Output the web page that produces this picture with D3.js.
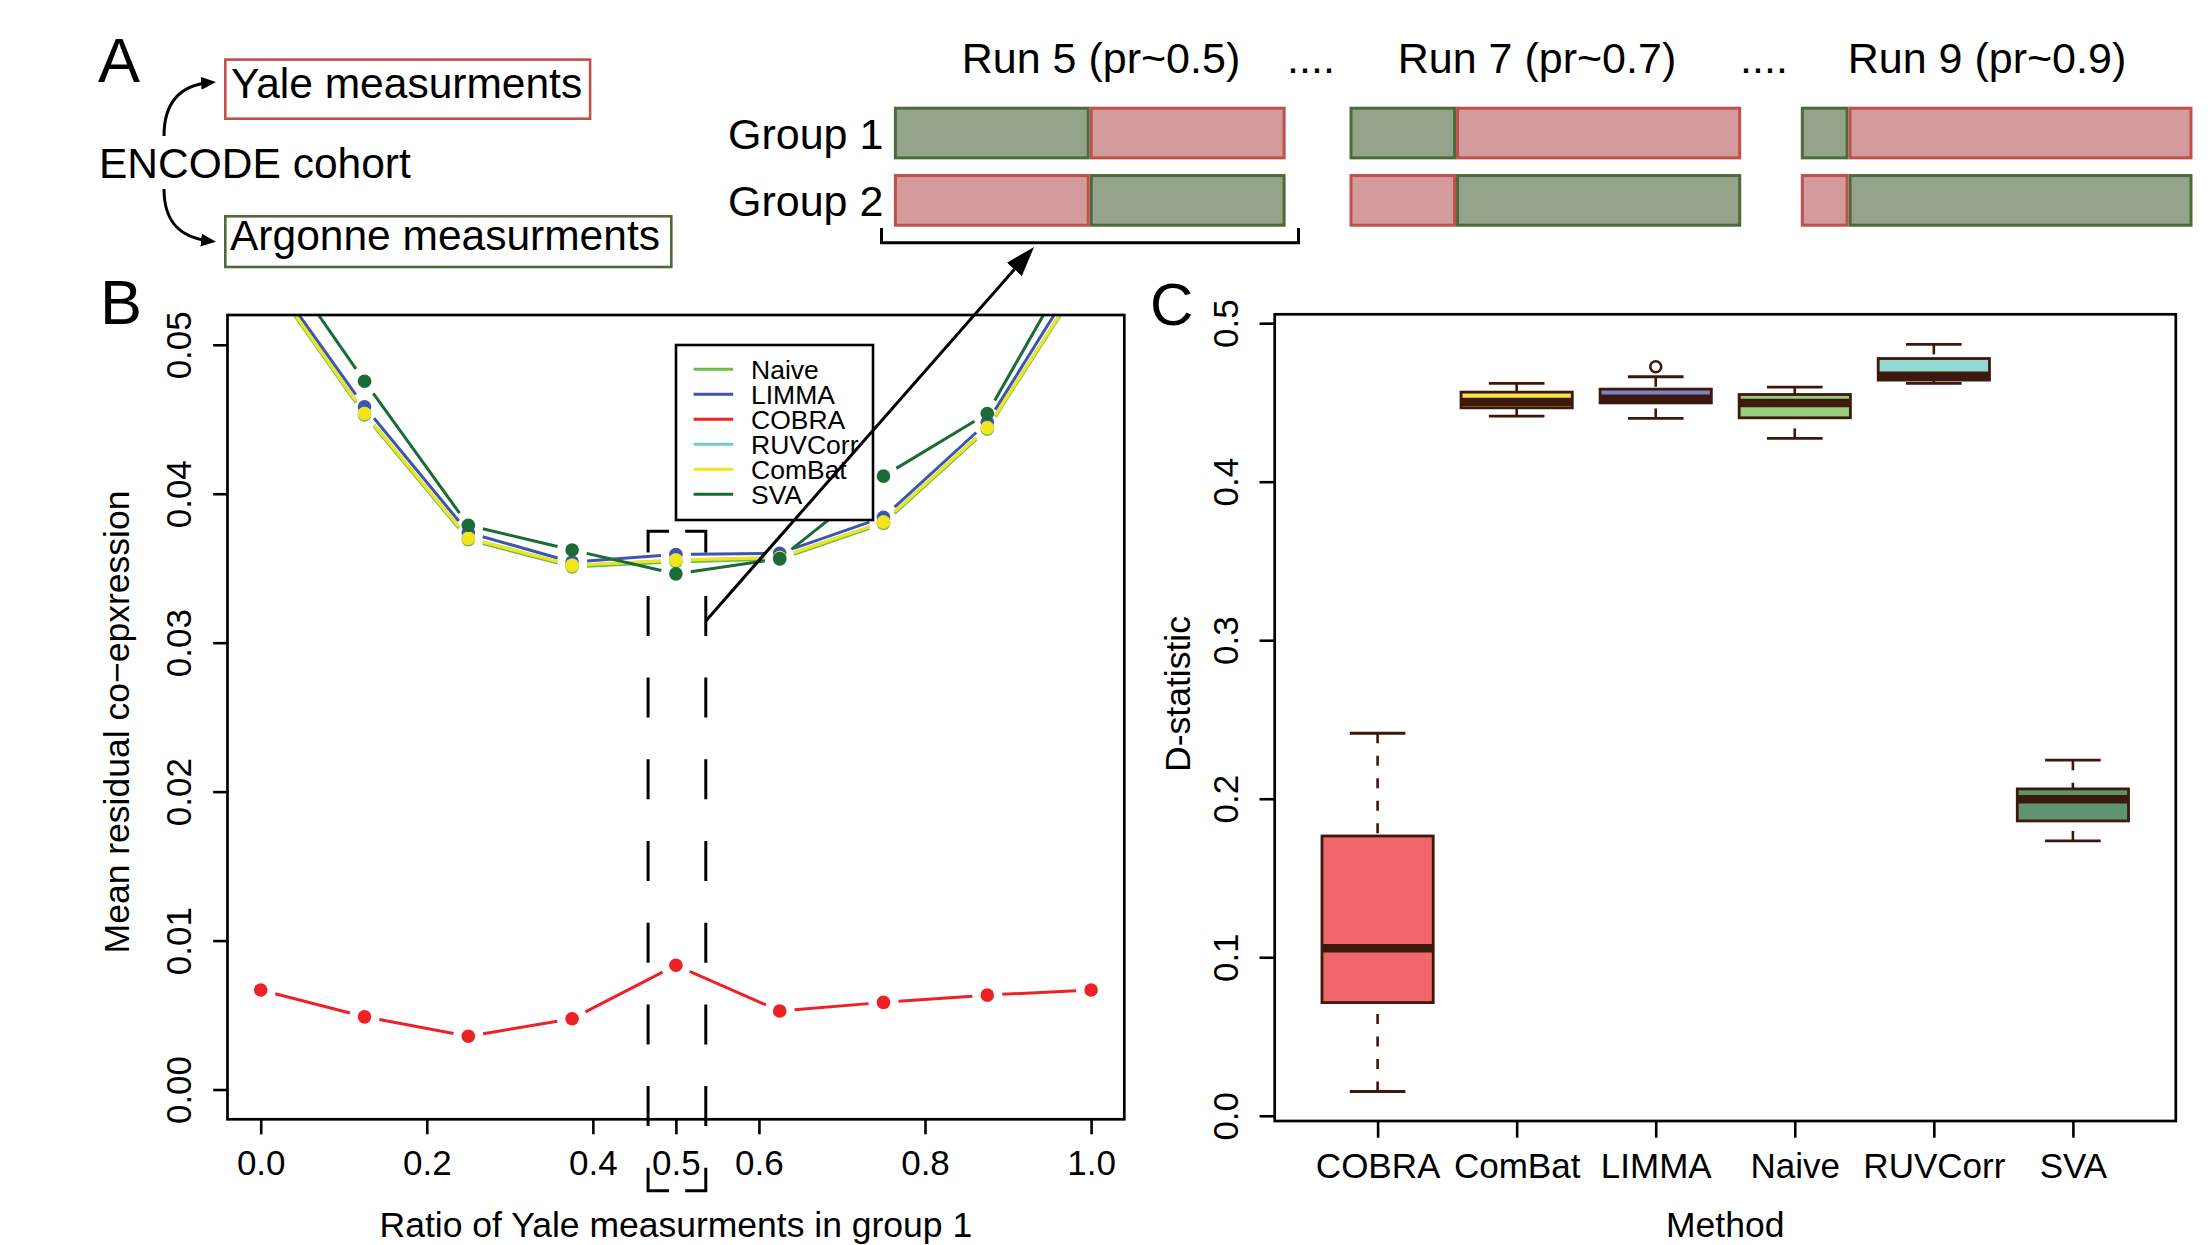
<!DOCTYPE html>
<html><head><meta charset="utf-8">
<script src="https://cdn.jsdelivr.net/npm/d3@7"></script>
<style>
body{margin:0;background:#fff}
svg{display:block}
text{font-family:"Liberation Sans",Arial,Helvetica,sans-serif;fill:#000}
</style>
</head><body>
<svg id="chart" width="2212" height="1245"></svg>
<script>
// ---------------- DATA ----------------
// Panel A
const runLabels = ["Run 5 (pr~0.5)", "Run 7 (pr~0.7)", "Run 9 (pr~0.9)"];
const yaleFracGroup1 = [0.5, 0.728, 0.878];   // share of Yale (red) in group 1
const groupLabels = ["Group 1", "Group 2"];

// Panel B
const ratio   = [0, 0.125, 0.25, 0.375, 0.5, 0.625, 0.75, 0.875, 1.0];
const naive   = [0.0552, 0.04529, 0.03691, 0.03509, 0.03543, 0.03561, 0.03800, 0.04433, 0.0552];
const limma   = [0.0556, 0.04584, 0.03739, 0.03541, 0.03592, 0.03600, 0.03842, 0.04479, 0.0560];
const cobra   = [0.00668, 0.00488, 0.00358, 0.00475, 0.00834, 0.00527, 0.00585, 0.00634, 0.00668];
const ruvcorr = [0.0553, 0.04539, 0.03701, 0.03519, 0.03554, 0.03571, 0.03810, 0.04443, 0.0553];
const combat  = [0.0553, 0.04539, 0.03701, 0.03519, 0.03554, 0.03571, 0.03810, 0.04443, 0.0553];
const sva     = [0.0576, 0.04755, 0.03788, 0.03622, 0.03462, 0.03564, 0.04118, 0.04539, 0.0576];
const seriesNames  = ["Naive", "LIMMA", "COBRA", "RUVCorr", "ComBat", "SVA"];
const seriesValues = [naive, limma, cobra, ruvcorr, combat, sva];
const seriesColors = ["#6BBF43", "#3D55AE", "#EC2227", "#72CCC8", "#F3E41C", "#1B6B36"];
const xTicksB = [0, 0.2, 0.4, 0.5, 0.6, 0.8, 1.0];
const yTicksB = [0, 0.01, 0.02, 0.03, 0.04, 0.05];

// Panel C
const methods   = ["COBRA", "ComBat", "LIMMA", "Naive", "RUVCorr", "SVA"];
const whiskerLo = [0.0153, 0.4414, 0.4399, 0.4273, 0.4620, 0.1734];
const q1        = [0.0714, 0.4466, 0.4497, 0.4403, 0.4641, 0.1860];
const median    = [0.1057, 0.4502, 0.4523, 0.4496, 0.4668, 0.1997];
const q3        = [0.1765, 0.4565, 0.4584, 0.4550, 0.4777, 0.2062];
const whiskerHi = [0.2413, 0.4620, 0.4662, 0.4597, 0.4866, 0.2243];
const outliers  = [[], [], [0.4725], [], [], []];
const boxColors = ["#F1666B", "#F0E44A", "#7B83C4", "#96D07C", "#92D8D3", "#5E9570"];
const yTicksC = [0, 0.1, 0.2, 0.3, 0.4, 0.5];

// ---------------- DRAW ----------------
const svg = d3.select("#chart");
svg.append("rect").attr("width", 2212).attr("height", 1245).attr("fill", "#fff");
const defs = svg.append("defs");
function marker(id, len, hw, refX) {
  defs.append("marker").attr("id", id).attr("markerUnits", "userSpaceOnUse")
    .attr("markerWidth", len).attr("markerHeight", hw * 2)
    .attr("refX", refX).attr("refY", hw).attr("orient", "auto")
    .append("path").attr("d", `M0,0 L${len},${hw} L0,${hw * 2} Z`).attr("fill", "#000");
}
marker("arrSmall", 15, 6.5, 9);
marker("arrBig", 30, 10, 20);

// ======== Panel A ========
svg.append("text").attr("x", 98).attr("y", 81.7).attr("font-size", 63).text("A");
const redStroke = "#C0504D", redFill = "#D39B9C", grnStroke = "#4E6A3A", grnFill = "#94A38A";
svg.append("rect").attr("x", 225.3).attr("y", 59.6).attr("width", 364.8).attr("height", 59.1)
  .attr("fill", "none").attr("stroke", redStroke).attr("stroke-width", 2.6);
svg.append("text").attr("x", 231).attr("y", 98.3).attr("font-size", 42.5).text("Yale measurments");
svg.append("text").attr("x", 99).attr("y", 178.3).attr("font-size", 42.5).text("ENCODE cohort");
svg.append("rect").attr("x", 225.3).attr("y", 216.3).attr("width", 446).attr("height", 50.7)
  .attr("fill", "none").attr("stroke", grnStroke).attr("stroke-width", 2.6);
svg.append("text").attr("x", 230).attr("y", 250).attr("font-size", 42.5).text("Argonne measurments");
svg.append("path").attr("d", "M164,136 C164,100 182,85 210,82.5")
  .attr("fill", "none").attr("stroke", "#000").attr("stroke-width", 3).attr("marker-end", "url(#arrSmall)");
svg.append("path").attr("d", "M164,189 C164,224 182,238 210,241")
  .attr("fill", "none").attr("stroke", "#000").attr("stroke-width", 3).attr("marker-end", "url(#arrSmall)");

// group bars
const yRow = d3.scaleBand().domain(groupLabels).range([106.7, 226.7]).paddingInner(0.218);
groupLabels.forEach(g => {
  svg.append("text").attr("x", 728).attr("y", yRow(g) + yRow.bandwidth() / 2 + 15.5)
    .attr("font-size", 43).text(g);
});
const runStarts = [893.9, 1349.5, 1800.8];
const runTitleX = [1101, 1537, 1987];
const barLen = 391.7;
runLabels.forEach((lab, i) => {
  const xr = d3.scaleLinear().domain([0, 1]).range([runStarts[i], runStarts[i] + barLen]);
  const argFrac = 1 - yaleFracGroup1[i];
  // group 1: Argonne (green) then Yale (red); group 2: Yale then Argonne
  const rows = [
    [{a: 0, b: argFrac, c: "g"}, {a: argFrac, b: 1, c: "r"}],
    [{a: 0, b: argFrac, c: "r"}, {a: argFrac, b: 1, c: "g"}]
  ];
  rows.forEach((segs, r) => {
    const y0 = yRow(groupLabels[r]);
    segs.forEach(s => {
      svg.append("rect")
        .attr("x", xr(s.a) + 1.5).attr("y", y0 + 1.5)
        .attr("width", xr(s.b) - xr(s.a) - 3).attr("height", yRow.bandwidth() - 3)
        .attr("fill", s.c === "g" ? grnFill : redFill)
        .attr("stroke", s.c === "g" ? grnStroke : redStroke).attr("stroke-width", 3);
    });
  });
  svg.append("text").attr("x", runTitleX[i]).attr("y", 73.3).attr("text-anchor", "middle")
    .attr("font-size", 43).text(lab);
});
[1311, 1764].forEach(x => svg.append("text").attr("x", x).attr("y", 73.3)
  .attr("text-anchor", "middle").attr("font-size", 43).text("...."));
// bracket under run 5
svg.append("path").attr("d", "M881.5,228 L881.5,242.7 L1298.5,242.7 L1298.5,228")
  .attr("fill", "none").attr("stroke", "#000").attr("stroke-width", 3);

// ======== Panel B ========
const xB = d3.scaleLinear().domain([-0.04, 1.04]).range([227.5, 1124.3]);
const yB = d3.scaleLinear().domain([-0.002, 0.052]).range([1119.3, 315]);
svg.append("text").attr("x", 100).attr("y", 324).attr("font-size", 63).text("B");

defs.append("clipPath").attr("id", "clipB").append("rect")
  .attr("x", xB.range()[0]).attr("y", yB.range()[1])
  .attr("width", xB.range()[1] - xB.range()[0]).attr("height", yB.range()[0] - yB.range()[1]);

const plotB = svg.append("g").attr("clip-path", "url(#clipB)");
const gap = 15;
seriesValues.forEach((vals, si) => {
  const pts = ratio.map((r, i) => [xB(r), yB(vals[i])]);
  const g = plotB.append("g");
  for (let i = 0; i < pts.length - 1; i++) {
    const [x1, y1] = pts[i], [x2, y2] = pts[i + 1];
    const d = Math.hypot(x2 - x1, y2 - y1);
    if (d <= 2 * gap) continue;
    const ux = (x2 - x1) / d, uy = (y2 - y1) / d;
    g.append("line").attr("x1", x1 + ux * gap).attr("y1", y1 + uy * gap)
      .attr("x2", x2 - ux * gap).attr("y2", y2 - uy * gap)
      .attr("stroke", seriesColors[si]).attr("stroke-width", 3);
  }
  g.selectAll("circle").data(pts).join("circle")
    .attr("cx", d => d[0]).attr("cy", d => d[1]).attr("r", 6.8)
    .attr("fill", seriesColors[si]);
});

// frame
svg.append("rect").attr("x", xB.range()[0]).attr("y", yB.range()[1])
  .attr("width", xB.range()[1] - xB.range()[0]).attr("height", yB.range()[0] - yB.range()[1])
  .attr("fill", "none").attr("stroke", "#000").attr("stroke-width", 2.7);

// axes
const axYB = svg.append("g").attr("transform", `translate(${xB.range()[0]},0)`)
  .call(d3.axisLeft(yB).tickValues(yTicksB).tickSize(14.3).tickFormat(d3.format(".2f")));
const axXB = svg.append("g").attr("transform", `translate(0,${yB.range()[0]})`)
  .call(d3.axisBottom(xB).tickValues(xTicksB).tickSize(15).tickFormat(d3.format(".1f")));
function styleAxis(ax, rotate, off) {
  ax.select(".domain").remove();
  ax.attr("font-size", 35).attr("font-family", null);
  ax.selectAll(".tick line").attr("stroke", "#000").attr("stroke-width", 2.6);
  const t = ax.selectAll(".tick text").attr("fill", "#000").attr("dy", null);
  if (rotate) {
    t.attr("x", 0).attr("y", 0).attr("text-anchor", "middle")
      .attr("transform", `translate(${-off},0) rotate(-90)`);
  } else {
    t.attr("y", off).attr("text-anchor", "middle");
  }
}
styleAxis(axYB, true, 36.5);
styleAxis(axXB, false, 55.7);

svg.append("text").attr("x", (xB.range()[0] + xB.range()[1]) / 2).attr("y", 1236.7)
  .attr("text-anchor", "middle").attr("font-size", 35.5).text("Ratio of Yale measurments in group 1");
svg.append("text").attr("transform", "translate(129.3,722) rotate(-90)")
  .attr("text-anchor", "middle").attr("font-size", 35.5).text("Mean residual co\u2212epxression");

// legend
const lg = svg.append("g");
lg.append("rect").attr("x", 676).attr("y", 345).attr("width", 197).attr("height", 175)
  .attr("fill", "#fff").attr("stroke", "#000").attr("stroke-width", 2.6);
seriesNames.forEach((n, i) => {
  const yy = 369.3 + i * 25;
  lg.append("line").attr("x1", 693.6).attr("x2", 733.2).attr("y1", yy).attr("y2", yy)
    .attr("stroke", seriesColors[i]).attr("stroke-width", 3);
  lg.append("text").attr("x", 751).attr("y", yy + 9.5).attr("font-size", 26.5).text(n);
});

// dashed bracket around 0.5
const bLo = 0.4665, bHi = 0.536, gLo = 0.4918, gHi = 0.5112;
const ann = svg.append("g").attr("stroke", "#000").attr("stroke-width", 3).attr("fill", "none");
ann.append("path").attr("d",
  `M${xB(bLo)},${yB(0.03606)} V${yB(0.03748)} H${xB(gLo)} M${xB(gHi)},${yB(0.03748)} H${xB(bHi)} V${yB(0.03606)}`);
[bLo, bHi].forEach(v => ann.append("line")
  .attr("x1", xB(v)).attr("x2", xB(v)).attr("y1", yB(0.03314)).attr("y2", yB(-0.0025))
  .attr("stroke-dasharray", "40,41.7"));
ann.append("path").attr("d",
  `M${xB(bLo)},${yB(-0.00525)} V${yB(-0.0068)} H${xB(gLo)} M${xB(gHi)},${yB(-0.0068)} H${xB(bHi)} V${yB(-0.00525)}`);
// arrow from bracket to run 5
ann.append("line").attr("x1", xB(bHi)).attr("y1", yB(0.03146))
  .attr("x2", 1027.5).attr("y2", 254.4).attr("marker-end", "url(#arrBig)");

// ======== Panel C ========
const xC = d3.scaleLinear().domain([0.26, 6.74]).range([1274.7, 2175.8]);
const yC = d3.scaleLinear().domain([-0.0033, 0.5056]).range([1121, 314.3]);
svg.append("text").attr("x", 1150).attr("y", 325).attr("font-size", 60).text("C");
const dark = "#3D180C";
const bw = 0.4 * (xC(2) - xC(1));
const boxes = svg.append("g");
methods.forEach((m, i) => {
  const cx = xC(i + 1);
  const g = boxes.append("g");
  // whiskers (dashed, drawn from whisker end to box)
  g.append("line").attr("x1", cx).attr("x2", cx).attr("y1", yC(whiskerHi[i])).attr("y2", yC(q3[i]))
    .attr("stroke", dark).attr("stroke-width", 2.6).attr("stroke-dasharray", "10,12.5");
  g.append("line").attr("x1", cx).attr("x2", cx).attr("y1", yC(whiskerLo[i])).attr("y2", yC(q1[i]))
    .attr("stroke", dark).attr("stroke-width", 2.6).attr("stroke-dasharray", "10,12.5");
  [whiskerHi[i], whiskerLo[i]].forEach(v => g.append("line")
    .attr("x1", cx - bw / 2).attr("x2", cx + bw / 2).attr("y1", yC(v)).attr("y2", yC(v))
    .attr("stroke", dark).attr("stroke-width", 2.8));
  g.append("rect").attr("x", cx - bw).attr("y", yC(q3[i]))
    .attr("width", 2 * bw).attr("height", yC(q1[i]) - yC(q3[i]))
    .attr("fill", boxColors[i]).attr("stroke", dark).attr("stroke-width", 2.8);
  g.append("line").attr("x1", cx - bw).attr("x2", cx + bw).attr("y1", yC(median[i])).attr("y2", yC(median[i]))
    .attr("stroke", dark).attr("stroke-width", 8.5);
  outliers[i].forEach(v => g.append("circle").attr("cx", cx).attr("cy", yC(v)).attr("r", 5.5)
    .attr("fill", "none").attr("stroke", dark).attr("stroke-width", 2.6));
});
svg.append("rect").attr("x", xC.range()[0]).attr("y", yC.range()[1])
  .attr("width", xC.range()[1] - xC.range()[0]).attr("height", yC.range()[0] - yC.range()[1])
  .attr("fill", "none").attr("stroke", "#000").attr("stroke-width", 2.7);
const axYC = svg.append("g").attr("transform", `translate(${xC.range()[0]},0)`)
  .call(d3.axisLeft(yC).tickValues(yTicksC).tickSize(15.2).tickFormat(d3.format(".1f")));
const axXC = svg.append("g").attr("transform", `translate(0,${yC.range()[0]})`)
  .call(d3.axisBottom(xC).tickValues(methods.map((m, i) => i + 1)).tickSize(16.7)
    .tickFormat(d => methods[d - 1]));
styleAxis(axYC, true, 36.9);
styleAxis(axXC, false, 57.3);
svg.append("text").attr("x", (xC.range()[0] + xC.range()[1]) / 2).attr("y", 1236.7)
  .attr("text-anchor", "middle").attr("font-size", 35.5).text("Method");
svg.append("text").attr("transform", "translate(1189.6,694) rotate(-90)")
  .attr("text-anchor", "middle").attr("font-size", 35.5).text("D-statistic");
</script>
</body></html>
